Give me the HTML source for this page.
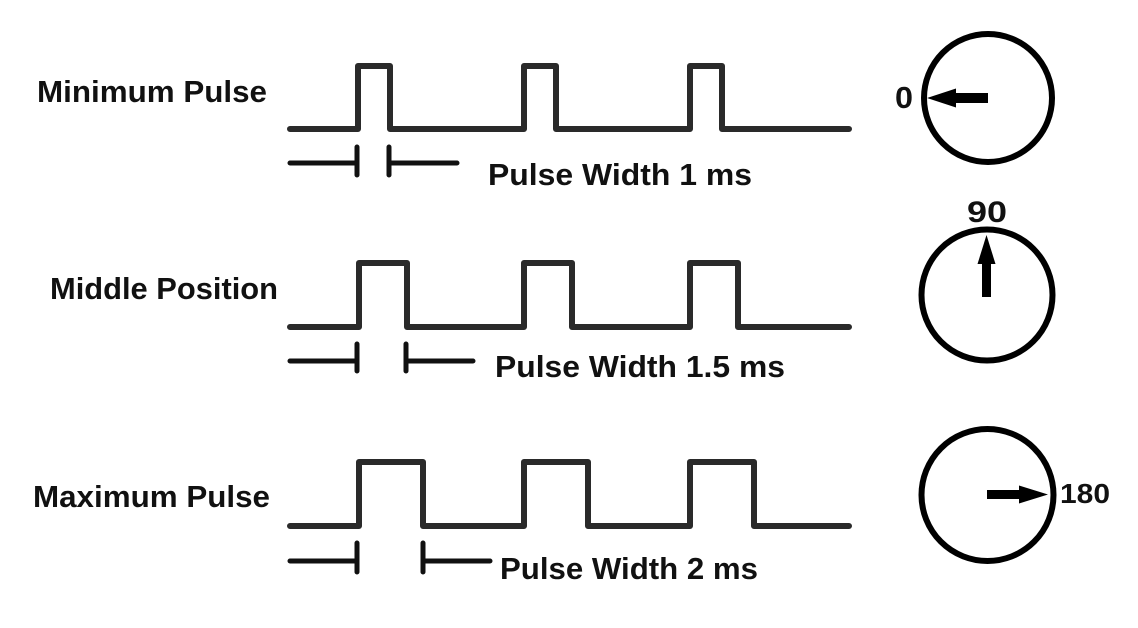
<!DOCTYPE html>
<html>
<head>
<meta charset="utf-8">
<style>
  html,body{margin:0;padding:0;background:#fff;}
  svg{display:block;}
  text{font-family:"Liberation Sans",sans-serif;font-weight:bold;fill:#111;}
</style>
</head>
<body>
<svg width="1138" height="628" viewBox="0 0 1138 628" xmlns="http://www.w3.org/2000/svg">
  <rect width="1138" height="628" fill="#fff"/>

  <!-- Left labels -->
  <text x="37" y="102" font-size="31" textLength="230" lengthAdjust="spacingAndGlyphs">Minimum Pulse</text>
  <text x="50" y="299" font-size="31" textLength="228" lengthAdjust="spacingAndGlyphs">Middle Position</text>
  <text x="33" y="507" font-size="31" textLength="237" lengthAdjust="spacingAndGlyphs">Maximum Pulse</text>

  <!-- Waveforms -->
  <g fill="none" stroke="#2a2a2a" stroke-width="6" stroke-linecap="round" stroke-linejoin="round">
    <path d="M290 129 H358 V66 H390 V129 H524 V66 H556 V129 H690 V66 H722 V129 H849"/>
    <path d="M290 327 H359 V263 H407 V327 H524 V263 H572 V327 H690 V263 H738 V327 H849"/>
    <path d="M290 526 H359 V462 H423 V526 H524 V462 H588 V526 H690 V462 H754 V526 H849"/>
  </g>

  <!-- Width ticks -->
  <g fill="none" stroke="#111" stroke-width="5" stroke-linecap="round">
    <path d="M290 163 H357 M357 147 V175 M389 147 V175 M389 163 H457"/>
    <path d="M290 361 H357 M357 344 V371 M406 344 V371 M406 361 H473"/>
    <path d="M290 561 H357 M357 543 V572 M423 543 V572 M423 561 H490"/>
  </g>

  <!-- Pulse width labels -->
  <text x="488" y="185" font-size="31" textLength="264" lengthAdjust="spacingAndGlyphs">Pulse Width 1 ms</text>
  <text x="495" y="377" font-size="31" textLength="290" lengthAdjust="spacingAndGlyphs">Pulse Width 1.5 ms</text>
  <text x="500" y="579" font-size="31" textLength="258" lengthAdjust="spacingAndGlyphs">Pulse Width 2 ms</text>

  <!-- Dials -->
  <g fill="none" stroke="#000" stroke-width="6">
    <circle cx="988" cy="98" r="64"/>
    <circle cx="987" cy="295" r="65.5"/>
    <circle cx="987.5" cy="495" r="66"/>
  </g>

  <!-- Arrows -->
  <g fill="#000">
    <rect x="954" y="93" width="34" height="10"/>
    <polygon points="927,98 956,88.5 956,107.5"/>

    <rect x="982" y="263" width="9" height="34"/>
    <polygon points="986.5,235 977.5,264 995.5,264"/>

    <rect x="987" y="490" width="33" height="9"/>
    <polygon points="1048,494.5 1019,485.5 1019,503.5"/>
  </g>

  <!-- Dial labels -->
  <text x="895" y="108" font-size="31" textLength="18" lengthAdjust="spacingAndGlyphs">0</text>
  <text x="967" y="222" font-size="30" textLength="40" lengthAdjust="spacingAndGlyphs">90</text>
  <text x="1060" y="503" font-size="28" textLength="50" lengthAdjust="spacingAndGlyphs">180</text>
</svg>
</body>
</html>
